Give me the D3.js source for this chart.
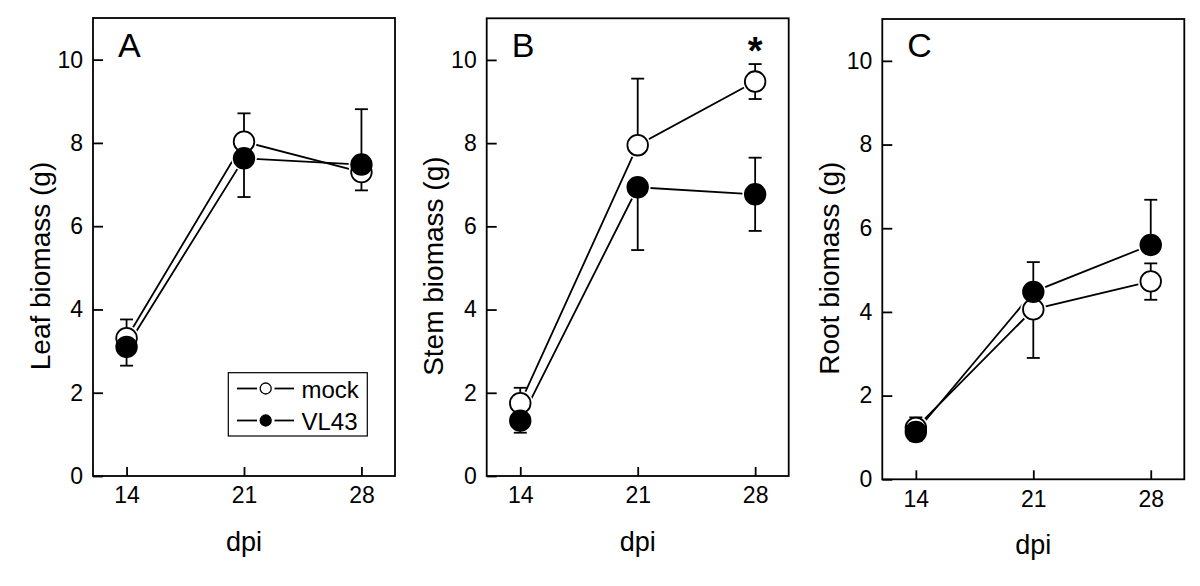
<!DOCTYPE html>
<html><head><meta charset="utf-8">
<script src="https://cdn.jsdelivr.net/npm/d3@7"></script>
<style>
body{margin:0;background:#fff}
svg{display:block}
text{font-family:"Liberation Sans",Arial,Helvetica,sans-serif;fill:#000}
</style>
</head><body>
<svg id="chart" width="1200" height="586"></svg>
<script>
// ---- data ----
const days = [14, 21, 28];
const yTicks = [0, 2, 4, 6, 8, 10];
const panelLetters = ["A", "B", "C"];
const yTitles = ["Leaf biomass (g)", "Stem biomass (g)", "Root biomass (g)"];
const xTitle = "dpi";
const seriesNames = ["mock", "VL43"];

// Leaf biomass
const leafMock      = [3.31, 8.03, 7.30];
const leafMockUp    = [0.45, 0.68, 0];
const leafMockDown  = [0, 0, 0.44];
const leafVL43      = [3.10, 7.63, 7.48];
const leafVL43Up    = [0, 0, 1.33];
const leafVL43Down  = [0.45, 0.93, 0];

// Stem biomass
const stemMock      = [1.75, 7.95, 9.48];
const stemMockUp    = [0.37, 1.60, 0.42];
const stemMockDown  = [0, 0, 0.42];
const stemVL43      = [1.33, 6.94, 6.77];
const stemVL43Up    = [0.28, 0, 0.88];
const stemVL43Down  = [0.29, 1.51, 0.88];

// Root biomass
const rootMock      = [1.23, 4.06, 4.73];
const rootMockUp    = [0.25, 0, 0.43];
const rootMockDown  = [0, 1.16, 0.44];
const rootVL43      = [1.13, 4.48, 5.60];
const rootVL43Up    = [0, 0.71, 1.08];
const rootVL43Down  = [0.21, 0, 0];

// significance marks: [panel index, day index]
const sigMarks = [[1, 2]];

// ---- layout ----
const panels = [
  {left: 93,    top: 18,   bottom: 476,
   mock: {m: leafMock, up: leafMockUp, dn: leafMockDown},
   vl:   {m: leafVL43, up: leafVL43Up, dn: leafVL43Down}},
  {left: 486.7, top: 18.3, bottom: 476,
   mock: {m: stemMock, up: stemMockUp, dn: stemMockDown},
   vl:   {m: stemVL43, up: stemVL43Up, dn: stemVL43Down}},
  {left: 882.3, top: 19,   bottom: 479.3,
   mock: {m: rootMock, up: rootMockUp, dn: rootMockDown},
   vl:   {m: rootVL43, up: rootVL43Up, dn: rootVL43Down}}
];
const W = 302;
const R = 10.3;      // marker radius
const SW = 1.8;      // stroke width
const CAP = 6.5;     // half cap width
const FONT = '"Liberation Sans",Arial,Helvetica,sans-serif';

const svg = d3.select("#chart");

panels.forEach((p, pi) => {
  const x = d3.scaleLinear().domain([12, 30]).range([p.left, p.left + W]);
  const y = d3.scaleLinear().domain([0, 11]).range([p.bottom, p.top]);
  const g = svg.append("g");

  // frame
  g.append("rect")
    .attr("x", p.left).attr("y", p.top)
    .attr("width", W).attr("height", p.bottom - p.top)
    .attr("fill", "none").attr("stroke", "#000").attr("stroke-width", SW);

  // axes
  const ya = g.append("g").attr("transform", `translate(${p.left},0)`)
    .call(d3.axisLeft(y).tickValues(yTicks).tickSizeInner(-10).tickSizeOuter(0).tickPadding(10));
  const xa = g.append("g").attr("transform", `translate(0,${p.bottom})`)
    .call(d3.axisBottom(x).tickValues(days).tickSizeInner(-9).tickSizeOuter(0).tickPadding(11));
  [ya, xa].forEach(a => {
    a.attr("font-size", null).attr("font-family", null);
    a.select(".domain").remove();
    a.selectAll(".tick line").attr("stroke", "#000").attr("stroke-width", SW);
    a.selectAll(".tick text")
      .style("font-size", "23px").style("font-family", FONT).style("fill", "#000");
  });

  // titles
  g.append("text")
    .attr("transform", `translate(${p.left - 43.5},${(p.top + p.bottom) / 2 + 19}) rotate(-90)`)
    .attr("text-anchor", "middle").style("font-size", "28px")
    .text(yTitles[pi]);
  g.append("text")
    .attr("x", x(21)).attr("y", p.bottom + 75)
    .attr("text-anchor", "middle").style("font-size", "27px")
    .text(xTitle);
  g.append("text")
    .attr("x", p.left + 25).attr("y", 57)
    .style("font-size", "34px")
    .text(panelLetters[pi]);

  const series = [p.mock, p.vl];
  const line = d3.line().x((d, i) => x(days[i])).y(d => y(d));

  // lines
  series.forEach(s => {
    g.append("path").datum(s.m).attr("d", line)
      .attr("fill", "none").attr("stroke", "#000").attr("stroke-width", SW);
  });
  // white halos (gap between line and marker)
  series.forEach(s => {
    g.selectAll(null).data(s.m).enter().append("circle")
      .attr("cx", (d, i) => x(days[i])).attr("cy", d => y(d))
      .attr("r", R + 2.5).attr("fill", "#fff");
  });
  // error bars
  series.forEach(s => {
    s.m.forEach((v, i) => {
      const cx = x(days[i]);
      [[s.up[i], 1], [s.dn[i], -1]].forEach(([e, dir]) => {
        if (!e) return;
        const ye = y(v + dir * e);
        g.append("line").attr("x1", cx).attr("x2", cx).attr("y1", y(v)).attr("y2", ye)
          .attr("stroke", "#000").attr("stroke-width", SW);
        g.append("line").attr("x1", cx - CAP).attr("x2", cx + CAP).attr("y1", ye).attr("y2", ye)
          .attr("stroke", "#000").attr("stroke-width", SW);
      });
    });
  });
  // markers
  g.selectAll(null).data(p.mock.m).enter().append("circle")
    .attr("cx", (d, i) => x(days[i])).attr("cy", d => y(d)).attr("r", R)
    .attr("fill", "#fff").attr("stroke", "#000").attr("stroke-width", SW);
  g.selectAll(null).data(p.vl.m).enter().append("circle")
    .attr("cx", (d, i) => x(days[i])).attr("cy", d => y(d)).attr("r", R)
    .attr("fill", "#000").attr("stroke", "#000").attr("stroke-width", SW);

  // significance
  sigMarks.filter(s => s[0] === pi).forEach(s => {
    g.append("text").attr("x", x(days[s[1]])).attr("y", 64)
      .attr("text-anchor", "middle").style("font-size", "38px").style("font-weight", "bold")
      .text("*");
  });

  // legend (panel A)
  if (pi === 0) {
    const lg = g.append("g");
    lg.append("rect").attr("x", 228.3).attr("y", 372.7).attr("width", 139).attr("height", 63.3)
      .attr("fill", "#fff").attr("stroke", "#000").attr("stroke-width", 1.2);
    const rows = [{y: 388.5, fill: "#fff"}, {y: 420.5, fill: "#000"}];
    rows.forEach((r, k) => {
      lg.append("line").attr("x1", 237).attr("x2", 257).attr("y1", r.y).attr("y2", r.y)
        .attr("stroke", "#000").attr("stroke-width", SW);
      lg.append("line").attr("x1", 274.5).attr("x2", 294).attr("y1", r.y).attr("y2", r.y)
        .attr("stroke", "#000").attr("stroke-width", SW);
      lg.append("circle").attr("cx", 265.7).attr("cy", r.y).attr("r", 5.5)
        .attr("fill", r.fill).attr("stroke", "#000").attr("stroke-width", 1.3);
      lg.append("text").attr("x", 301.5).attr("y", r.y + 9.5).style("font-size", "24px")
        .text(seriesNames[k]);
    });
  }
});
</script>
</body></html>
